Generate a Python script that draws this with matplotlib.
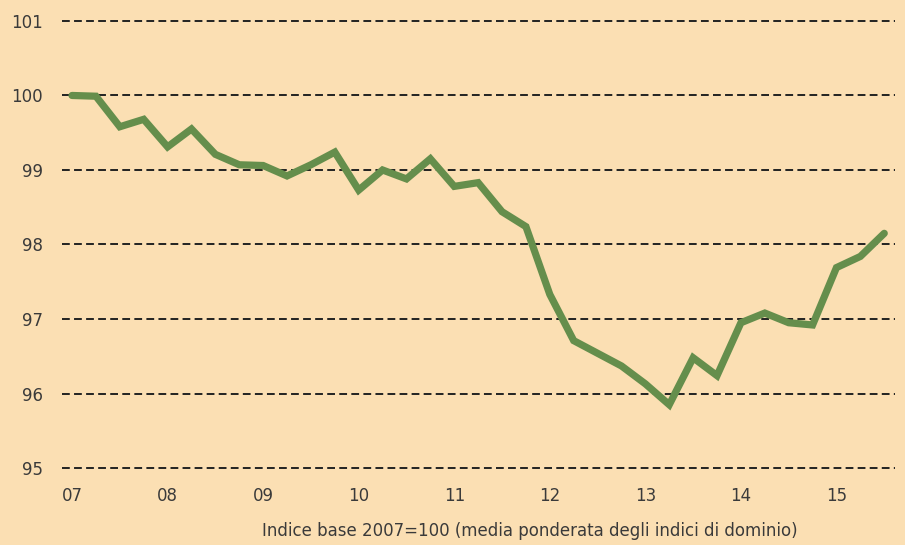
import matplotlib
matplotlib.use("Agg")
from matplotlib import pyplot as plt

# quarterly index, base 2007=100
years = ["07", "08", "09", "10", "11", "12", "13", "14", "15"]
values = [
	100.0, 99.99, 99.58, 99.68,
	99.31, 99.55, 99.21, 99.07,
	99.06, 98.92, 99.07, 99.24,
	98.73, 99.00, 98.88, 99.15,
	98.78, 98.83, 98.44, 98.24,
	97.33, 96.71, 96.54, 96.37,
	96.13, 95.85, 96.48, 96.24,
	96.95, 97.08, 96.95, 96.92,
	97.69, 97.84, 98.15,
]
y_ticks = [95, 96, 97, 98, 99, 100, 101]
caption = "Indice base 2007=100 (media ponderata degli indici di dominio)"

BG = "#fbdfb3"
GREEN = "#658e4c"
TEXT = "#3a3a3a"

plt.rcParams['font.family'] = ['DejaVu Sans']

fig = plt.figure(figsize=(9.05, 5.45), dpi=100, facecolor=BG)
W, H = 905, 545
left, right = 62, 895
top, bottom = 13.5, 475.5
ax = fig.add_axes([left / W, 1 - bottom / H, (right - left) / W, (bottom - top) / H])
ax.set_facecolor(BG)

for y in y_ticks:
	ax.axhline(y, color="#222222", lw=1.4, ls=(0, (4, 2.2)), zorder=1)

ax.plot(range(len(values)), values, color=GREEN, lw=5.2, solid_joinstyle="miter",
	solid_capstyle="round", zorder=3)

ax.set_xlim(-0.42, 34.45)
ax.set_ylim(94.9, 101.1)
ax.set_xticks([i * 4 for i in range(len(years))])
ax.set_xticklabels(years)
ax.set_yticks(y_ticks)
ax.set_yticklabels([str(y) for y in y_ticks])
ax.tick_params(length=0, labelsize=12, colors=TEXT)
ax.tick_params(axis="y", pad=14)
ax.tick_params(axis="x", pad=8)
for s in ax.spines.values():
	s.set_visible(False)

fig.text(530 / W, 1 - 531 / H, caption, ha="center", va="center", fontsize=12, color=TEXT)

fig.savefig("out.png", dpi=100, facecolor=BG)
